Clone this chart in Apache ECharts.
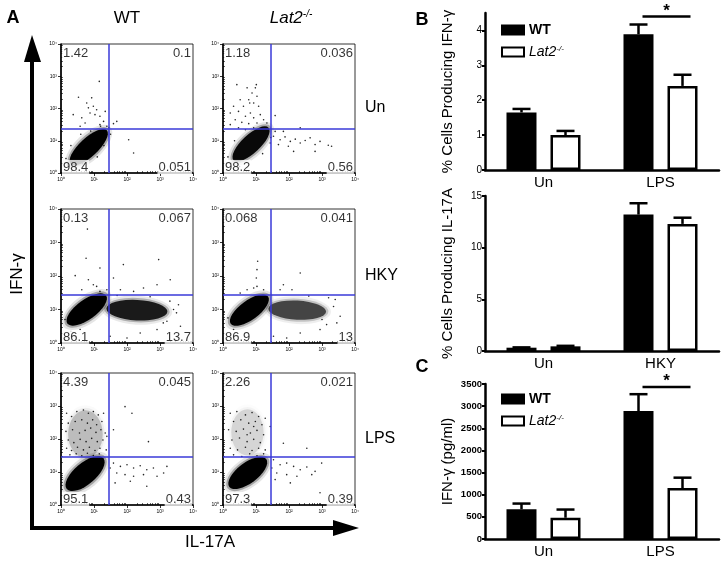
<!DOCTYPE html>
<html>
<head>
<meta charset="utf-8">
<script src="https://cdn.jsdelivr.net/npm/echarts@6/dist/echarts.min.js"></script>
<style>html,body{margin:0;background:#fff}#c{width:728px;height:561px}</style>
</head>
<body>
<div id="c"></div>
<script>
// ---------- panel A: flow plots, values in decades (log10) ----------
// quadrant percentages: upper-left, upper-right, lower-left, lower-right
const quadUnWT = ['1.42', '0.1', '98.4', '0.051'];
const quadUnLat2 = ['1.18', '0.036', '98.2', '0.56'];
const quadHkyWT = ['0.13', '0.067', '86.1', '13.7'];
const quadHkyLat2 = ['0.068', '0.041', '86.9', '13'];
const quadLpsWT = ['4.39', '0.045', '95.1', '0.43'];
const quadLpsLat2 = ['2.26', '0.021', '97.3', '0.39'];
const gates = [[1.43, 1.38], [1.43, 1.43], [1.43, 1.46]]; // per row [x, y]

// dense populations: centre x, centre y, length, width (decades), angle, density
const blobUnWT = [[0.84, 0.8, 1.5, 0.56, 43, 1]];
const blobUnLat2 = [[0.85, 0.9, 1.45, 0.55, 43, 0.95]];
const blobHkyWT = [[0.78, 1.0, 1.45, 0.6, 36, 1], [2.3, 0.98, 1.85, 0.62, -3, 0.85]];
const blobHkyLat2 = [[0.8, 0.98, 1.4, 0.58, 36, 1], [2.25, 0.98, 1.75, 0.58, -3, 0.65]];
const blobLpsWT = [[0.74, 2.15, 1.45, 1.05, 90, 0.2], [0.73, 0.95, 1.45, 0.65, 40, 1]];
const blobLpsLat2 = [[0.74, 2.2, 1.4, 0.98, 90, 0.12], [0.75, 0.97, 1.4, 0.62, 37, 1]];

// scattered events
const dotsUnWT = [[1.16,2.84],[0.53,2.35],[0.93,2.33],[0.78,2.17],[0.98,2.07],[1.08,1.96],[0.88,1.86],[1.03,1.81],
  [0.63,1.71],[1.18,1.76],[1.34,1.91],[1.69,1.6],[1.59,1.53],[2.05,1.03],[2.2,0.62],[0.37,1.81],[0.73,1.55],
  [1.18,1.5],[1.29,1.6],[0.83,2.02],[0.58,1.45],[1.39,1.45],[0.15,0.45],[0.2,0.25],[0.45,0.15],[0.65,0.3],
  [1.1,0.5],[1.3,0.85],[1.5,1.2],[1.45,1.4],[1.2,1.45],[0.6,1.2],[0.3,0.85],[0.9,1.3]];
const dotsUnLat2 = [[0.42,2.74],[0.73,2.64],[0.98,2.64],[0.88,2.48],[1.03,2.38],[0.52,2.27],[0.78,2.27],[0.93,2.17],
  [0.32,2.07],[0.62,2.07],[1.08,2.07],[0.22,1.86],[0.47,1.91],[0.83,1.86],[1.13,1.81],[0.68,1.76],[0.93,1.71],
  [0.37,1.65],[1.23,1.65],[0.57,1.57],[1.03,1.55],[0.78,1.53],[1.33,1.55],[0.22,1.5],[0.93,1.4],[0.47,1.4],
  [0.68,1.34],[1.18,1.4],[1.58,1.78],[1.01,2.74],[0.81,2.17],[1.53,1.14],[1.73,1.03],[1.88,1.12],[2.04,0.98],
  [2.19,1.05],[2.34,0.93],[2.49,1.01],[2.64,1.09],[2.79,0.88],[2.94,0.98],[3.19,0.86],[3.29,0.83],[1.68,0.88],
  [1.98,0.83],[1.58,1.29],[1.83,1.29],[2.34,1.4],[2.14,0.67],[1.43,0.93],[2.79,0.67],[0.15,0.5],[0.25,0.3],
  [0.5,0.2],[1.2,0.6],[1.45,1.1],[0.35,1.0]];
const dotsHkyWT = [[0.8,3.4],[0.76,2.53],[1.18,2.24],[1.89,2.34],[2.96,2.49],[3.31,1.89],[0.43,2.01],[0.83,1.89],
  [0.98,1.74],[1.08,1.69],[0.63,1.59],[1.59,1.94],[1.8,1.59],[2.5,1.64],[2.91,1.74],[1.18,1.54],[1.39,1.59],
  [2.2,1.54],[1.49,0.2],[2.4,0.3],[2.91,0.4],[3.62,0.5],[0.58,0.4],[2.0,0.15],[3.21,0.65],[3.41,1.0],[3.56,1.14],
  [0.12,0.7],[0.3,0.35],[3.5,0.9],[3.3,1.25],[1.7,1.42],[2.7,1.38],[3.1,0.6]];
const dotsHkyLat2 = [[1.05,2.44],[1.03,2.19],[1.01,1.94],[1.03,1.69],[2.34,2.09],[0.93,1.64],[0.73,1.59],[1.73,1.59],
  [1.83,1.74],[0.52,1.49],[1.23,1.59],[2.09,1.59],[1.53,0.2],[2.34,0.3],[2.94,0.4],[3.45,0.6],[3.55,0.8],
  [3.35,1.09],[0.32,0.4],[1.93,0.15],[3.14,0.55],[3.4,1.3],[3.2,1.35],[0.15,0.75],[2.6,1.4],[3.0,0.7]];
const dotsLpsWT = [[0.17,2.78],[0.32,2.68],[0.48,2.83],[0.68,2.88],[0.83,2.78],[0.98,2.83],[1.13,2.73],[1.29,2.78],
  [0.22,2.48],[0.43,2.53],[0.63,2.58],[0.8,2.48],[0.96,2.58],[1.08,2.43],[1.24,2.53],[0.15,2.23],[0.35,2.28],
  [0.56,2.18],[0.73,2.26],[0.9,2.33],[1.06,2.2],[1.21,2.28],[1.34,2.18],[0.22,1.97],[0.39,1.89],[0.58,1.99],
  [0.76,1.92],[0.93,2.02],[1.1,1.92],[1.27,1.97],[0.17,1.72],[0.32,1.65],[0.5,1.75],[0.68,1.67],[0.86,1.75],
  [1.03,1.65],[1.18,1.72],[1.37,1.67],[0.27,1.52],[0.46,1.55],[0.63,1.49],[0.8,1.57],[0.98,1.5],[1.16,1.55],
  [1.94,2.98],[2.15,2.78],[1.59,2.28],[2.65,1.92],[1.39,2.08],[1.59,1.27],[1.8,1.17],[2.0,1.22],[2.2,1.12],
  [2.4,1.19],[2.6,1.07],[2.8,1.12],[1.69,0.97],[1.94,0.92],[2.2,0.87],[2.5,0.92],[2.91,0.87],[3.11,0.97],
  [1.64,0.67],[2.1,0.72],[2.6,0.57],[1.49,1.12],[3.21,1.17]];
const dotsLpsLat2 = [[0.22,2.78],[0.42,2.83],[0.68,2.73],[0.88,2.8],[1.08,2.68],[1.28,2.63],[0.32,2.53],[0.54,2.58],
  [0.78,2.48],[0.98,2.53],[1.18,2.43],[0.17,2.28],[0.4,2.23],[0.62,2.3],[0.83,2.18],[1.03,2.26],[1.23,2.13],
  [0.27,1.97],[0.5,2.03],[0.73,1.92],[0.93,1.99],[1.13,1.89],[0.22,1.72],[0.44,1.67],[0.68,1.75],[0.88,1.65],
  [1.08,1.72],[1.28,1.67],[0.32,1.52],[0.57,1.47],[0.81,1.55],[1.03,1.49],[1.23,1.55],[0.73,2.13],[0.93,2.38],
  [1.83,1.87],[2.54,1.72],[1.43,2.38],[1.53,1.37],[1.73,1.22],[1.93,1.27],[2.14,1.17],[2.34,1.07],[2.54,1.15],
  [2.79,1.02],[2.99,1.27],[1.63,0.97],[1.93,0.92],[2.24,0.87],[2.69,0.92],[1.58,0.77],[2.04,0.67],[2.94,0.37],
  [1.48,1.12]];

// ---------- panel B / C: bar data ----------
const catIfng = ['Un', 'LPS'];
const ifngWT = [1.65, 3.89], ifngWTErr = [1.75, 4.17];
const ifngLat2 = [1.0, 2.41], ifngLat2Err = [1.12, 2.73];
const catIl17 = ['Un', 'HKY'];
const il17WT = [0.32, 13.2], il17WTErr = [0.35, 14.3];
const il17Lat2 = [0.45, 12.3], il17Lat2Err = [0.5, 12.9];
const catPg = ['Un', 'LPS'];
const pgWT = [670, 2890], pgWTErr = [800, 3270];
const pgLat2 = [480, 1150], pgLat2Err = [665, 1385];
const sigIfng = [1, 4.4];
const sigPg = [1, 3430];

const FONT = "'Liberation Sans', Arial, sans-serif";
const SUP = ['\u2070', '\u00b9', '\u00b2', '\u00b3', '\u2074'];
const ELLIPSE = 'path://M0,50A50,50,0,1,1,100,50A50,50,0,1,1,0,50Z';
const PX = 33;         // pixels per decade in a flow plot
const BAR_W = 30, BAR_OFF = 22;
const GATE_COLOR = '#3a3ad8';
// soft edge for the dense populations: [extra length, extra width, opacity factor]
const BLOB_LAYERS = [[0.3, 0.26, 0.1], [0.14, 0.12, 0.28], [0, 0, 1]];

const minorTicks = [];
for (let d = 0; d < 4; d++) for (let k = 2; k < 10; k++) minorTicks.push(d + Math.log10(k));

const plots = [
  {box: [61, 44, 132, 129], row: 0, quad: quadUnWT, blobs: blobUnWT, dots: dotsUnWT},
  {box: [223, 44, 132, 129], row: 0, quad: quadUnLat2, blobs: blobUnLat2, dots: dotsUnLat2},
  {box: [61, 209, 132, 134], row: 1, quad: quadHkyWT, blobs: blobHkyWT, dots: dotsHkyWT},
  {box: [223, 209, 132, 134], row: 1, quad: quadHkyLat2, blobs: blobHkyLat2, dots: dotsHkyLat2},
  {box: [61, 373, 132, 132], row: 2, quad: quadLpsWT, blobs: blobLpsWT, dots: dotsLpsWT},
  {box: [223, 373, 132, 132], row: 2, quad: quadLpsLat2, blobs: blobLpsLat2, dots: dotsLpsLat2}
];

const grid = [], xAxis = [], yAxis = [], series = [];

function flowAxis(g) {
  return {gridIndex: g, type: 'value', min: 0, max: 4, interval: 1,
    axisLine: {show: true, onZero: false, lineStyle: {color: '#000', width: 1.6}},
    axisTick: {show: true, length: 3, lineStyle: {color: '#000', width: 0.8}},
    axisLabel: {fontSize: 5, color: '#000', margin: 4, fontFamily: FONT, formatter: v => '10' + SUP[v]},
    splitLine: {show: false}};
}
function flowMinor(g) {
  return {gridIndex: g, type: 'value', min: 0, max: 4,
    axisLine: {show: false}, axisLabel: {show: false}, splitLine: {show: false},
    axisTick: {show: true, length: 2, customValues: minorTicks, lineStyle: {color: '#000', width: 0.6}}};
}
// keep the thin gate lines on whole pixel pairs so they stay blue
const snap = v => 2 * Math.floor(v / 2) + 1;

plots.forEach((p, i) => {
  grid.push({left: p.box[0], top: p.box[1], width: p.box[2], height: p.box[3],
    show: true, borderColor: '#000', borderWidth: 0.8});
  xAxis.push(flowAxis(i), flowMinor(i));
  yAxis.push(flowAxis(i), flowMinor(i));
  const ax = i * 2;
  const blobItems = [];
  BLOB_LAYERS.forEach(l => p.blobs.forEach(b => blobItems.push({value: [b[0], b[1]],
    symbolSize: [(b[2] + l[0]) * PX, (b[3] + l[1]) * PX], symbolRotate: b[4],
    itemStyle: {opacity: b[5] * l[2]}})));
  series.push({type: 'scatter', xAxisIndex: ax, yAxisIndex: ax, silent: true, symbol: ELLIPSE,
    itemStyle: {color: '#000'}, data: blobItems});
  series.push({type: 'scatter', xAxisIndex: ax, yAxisIndex: ax, silent: true, symbolSize: 1.6,
    itemStyle: {color: '#000', opacity: 0.85}, data: p.dots});
  // quadrant gate
  series.push({type: 'custom', xAxisIndex: ax, yAxisIndex: ax, silent: true, z: 4,
    data: [gates[p.row]],
    renderItem(params, api) {
      const gx = api.value(0), gy = api.value(1);
      const v0 = api.coord([gx, 0]), v1 = api.coord([gx, 4]);
      const h0 = api.coord([0, gy]), h1 = api.coord([4, gy]);
      const st = () => ({stroke: GATE_COLOR, lineWidth: 1.5});
      return {type: 'group', children: [
        {type: 'line', shape: {x1: snap(v0[0]), y1: v0[1], x2: snap(v1[0]), y2: v1[1]}, style: st()},
        {type: 'line', shape: {x1: h0[0], y1: snap(h0[1]), x2: h1[0], y2: snap(h1[1])}, style: st()}
      ]};
    }});
  const lab = {show: true, color: '#000', fontSize: 13, fontFamily: FONT,
    backgroundColor: '#fff', padding: [1, 1, 0, 1]};
  series.push({type: 'scatter', xAxisIndex: ax, yAxisIndex: ax, silent: true, symbolSize: 0.1,
    itemStyle: {color: 'rgba(0,0,0,0)'}, z: 5,
    data: [
      {value: [0, 4], label: Object.assign({}, lab, {formatter: p.quad[0], position: [1, 2], align: 'left', verticalAlign: 'top'})},
      {value: [4, 4], label: Object.assign({}, lab, {formatter: p.quad[1], position: [-1, 2], align: 'right', verticalAlign: 'top'})},
      {value: [0, 0], label: Object.assign({}, lab, {formatter: p.quad[2], position: [1, 1], align: 'left', verticalAlign: 'bottom'})},
      {value: [4, 0], label: Object.assign({}, lab, {formatter: p.quad[3], position: [-1, 1], align: 'right', verticalAlign: 'bottom'})}
    ]});
});

// ---------- bar charts ----------
const barBoxes = [[485, 13, 234, 157], [485, 196, 234, 155], [485, 384, 234, 155]];
const barSets = [
  {cats: catIfng, wt: ifngWT, wtE: ifngWTErr, ko: ifngLat2, koE: ifngLat2Err, max: 4.5, ticks: [0, 1, 2, 3, 4],
    name: '% Cells Producing IFN-\u03b3', bold: false, fs: 10},
  {cats: catIl17, wt: il17WT, wtE: il17WTErr, ko: il17Lat2, koE: il17Lat2Err, max: 15, ticks: [0, 5, 10, 15],
    name: '% Cells Producing IL-17A', bold: false, fs: 10},
  {cats: catPg, wt: pgWT, wtE: pgWTErr, ko: pgLat2, koE: pgLat2Err, max: 3500,
    ticks: [0, 500, 1000, 1500, 2000, 2500, 3000, 3500], name: 'IFN-\u03b3 (pg/ml)', bold: true, fs: 9.5}
];

function errBars(ax, side, vals, errs) {
  return {type: 'custom', xAxisIndex: ax, yAxisIndex: ax, z: 3, silent: true,
    data: vals.map((v, i) => [i, v, errs[i]]), encode: {x: 0, y: [1, 2]},
    renderItem(params, api) {
      const a = api.coord([api.value(0), api.value(1)]);
      const b = api.coord([api.value(0), api.value(2)]);
      const x = a[0] + side * BAR_OFF;
      return {type: 'group', children: [
        {type: 'line', shape: {x1: x, y1: a[1], x2: x, y2: b[1]}, style: {stroke: '#000', lineWidth: 2.5}},
        {type: 'line', shape: {x1: x - 9, y1: b[1], x2: x + 9, y2: b[1]}, style: {stroke: '#000', lineWidth: 2.5}}
      ]};
    }};
}
function sigMark(ax, s) {
  return {type: 'custom', xAxisIndex: ax, yAxisIndex: ax, silent: true, data: [s],
    renderItem(params, api) {
      const c = api.coord([api.value(0), api.value(1)]);
      return {type: 'group', children: [
        {type: 'line', shape: {x1: c[0] - 18, y1: c[1], x2: c[0] + 30, y2: c[1]}, style: {stroke: '#000', lineWidth: 2.5}},
        {type: 'text', x: c[0] + 6, y: c[1] + 3, style: {text: '*', font: 'bold 17px ' + FONT,
          align: 'center', verticalAlign: 'bottom', fill: '#000'}}
      ]};
    }};
}

barSets.forEach((s, k) => {
  const b = barBoxes[k];
  const ax = 12 + k;
  grid.push({left: b[0], top: b[1], width: b[2], height: b[3]});
  xAxis.push({gridIndex: 6 + k, type: 'category', data: s.cats,
    axisLine: {lineStyle: {color: '#000', width: 2.5}},
    axisTick: {alignWithLabel: true, length: 4, lineStyle: {color: '#000', width: 2}},
    axisLabel: {fontSize: 15, color: '#000', margin: 5, fontFamily: FONT}});
  yAxis.push({gridIndex: 6 + k, type: 'value', min: 0, max: s.max,
    axisLine: {show: true, lineStyle: {color: '#000', width: 2.5}},
    axisTick: {show: true, length: 3, customValues: s.ticks, lineStyle: {color: '#000', width: 2}},
    axisLabel: {customValues: s.ticks, fontSize: s.fs, fontWeight: s.bold ? 'bold' : 'normal',
      color: '#000', margin: 3, fontFamily: FONT, formatter: v => String(v)},
    splitLine: {show: false},
    name: s.name, nameLocation: 'middle', nameGap: 30,
    nameTextStyle: {fontSize: 15, color: '#000', fontFamily: FONT}});
  series.push({type: 'bar', name: 'WT', xAxisIndex: ax, yAxisIndex: ax, data: s.wt, barWidth: BAR_W,
    barGap: '46.7%', itemStyle: {color: '#000', borderColor: '#000', borderWidth: 2.5}});
  series.push({type: 'bar', name: 'Lat2', xAxisIndex: ax, yAxisIndex: ax, data: s.ko, barWidth: BAR_W,
    barGap: '46.7%', itemStyle: {color: '#fff', borderColor: '#000', borderWidth: 2.5}});
  series.push(errBars(ax, -1, s.wt, s.wtE), errBars(ax, 1, s.ko, s.koE));
});
series.push(sigMark(12, sigIfng), sigMark(14, sigPg));

const legendText = {
  formatter: n => n === 'WT' ? '{w|WT}' : '{i|Lat2}{s|-/-}',
  textStyle: {rich: {
    w: {fontSize: 14, fontWeight: 'bold', color: '#000', fontFamily: FONT},
    i: {fontSize: 14, fontStyle: 'italic', color: '#000', fontFamily: FONT},
    s: {fontSize: 8, fontStyle: 'italic', color: '#000', fontFamily: FONT, verticalAlign: 'top'}}}
};
const legend = [18, 387].map(t => Object.assign({left: 496, top: t, orient: 'vertical', icon: 'rect',
  itemWidth: 22, itemHeight: 9, itemGap: 8, selectedMode: false, data: ['WT', 'Lat2']}, legendText));

const txt = (x, y, text, size, extra) => Object.assign({type: 'text', x: x, y: y,
  style: {text: text, font: size + 'px ' + FONT, fill: '#000', align: 'center', verticalAlign: 'middle'}}, extra || {});

const graphic = [
  txt(13, 18, 'A', 'bold 18'), txt(422, 20, 'B', 'bold 18'), txt(422, 367, 'C', 'bold 18'),
  txt(127, 18, 'WT', 17),
  {type: 'text', x: 291, y: 18, style: {text: '{i|Lat2}{s|-/-}', align: 'center', verticalAlign: 'middle',
    rich: {i: {fontSize: 17, fontStyle: 'italic', fontFamily: FONT, fill: '#000'},
      s: {fontSize: 10, fontStyle: 'italic', fontFamily: FONT, fill: '#000', verticalAlign: 'top'}}}},
  txt(365, 108, 'Un', 16), txt(365, 276, 'HKY', 16), txt(365, 439, 'LPS', 16),
  txt(17, 274, 'IFN-\u03b3', 17, {rotation: Math.PI / 2}),
  txt(210, 542, 'IL-17A', 17),
  {type: 'rect', shape: {x: 30, y: 58, width: 4, height: 472}, style: {fill: '#000'}},
  {type: 'polygon', shape: {points: [[24, 62], [41, 62], [32, 35]]}, style: {fill: '#000'}},
  {type: 'rect', shape: {x: 30, y: 526, width: 306, height: 4}, style: {fill: '#000'}},
  {type: 'polygon', shape: {points: [[333, 520], [333, 536], [359, 528]]}, style: {fill: '#000'}}
];
graphic.slice(5, 8).forEach(g => { g.style.align = 'left'; });

const chart = echarts.init(document.getElementById('c'));
chart.setOption({animation: false, backgroundColor: '#fff', grid, xAxis, yAxis, series, legend, graphic});
</script>
</body>
</html>
